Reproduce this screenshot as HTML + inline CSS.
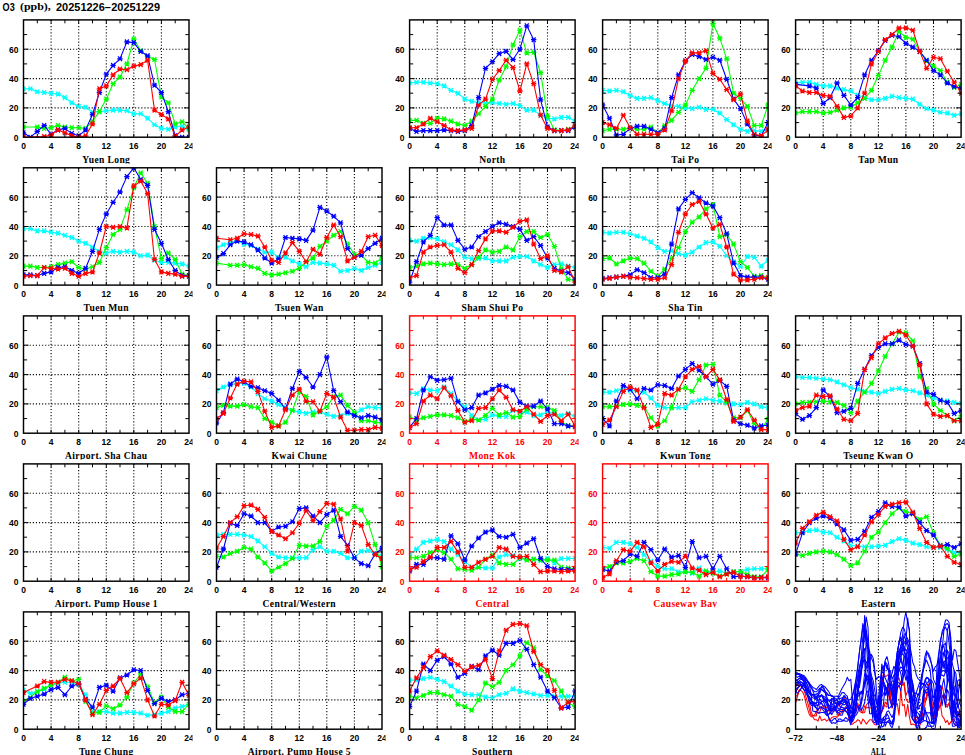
<!DOCTYPE html>
<html><head><meta charset="utf-8"><title>O3 (ppb), 20251226-20251229</title>
<style>html,body{margin:0;padding:0;background:#fff}body{width:965px;height:755px;overflow:hidden}svg{display:block}text{font-family:"Liberation Sans",sans-serif;font-weight:bold;font-size:8.5px}.s{font-family:"Liberation Serif",serif;font-size:9.6px;letter-spacing:.35px;text-anchor:middle}.x{text-anchor:middle}.y{text-anchor:end}.d{fill:none;stroke-width:1.1;stroke-linejoin:round}.a{fill:none;stroke-width:1.05;stroke-linejoin:round}</style></head><body>
<svg width="965" height="755" viewBox="0 0 965 755">
<defs>
<marker id="mc" viewBox="-3 -3 6 6" markerWidth="6" markerHeight="6" refX="0" refY="0" markerUnits="userSpaceOnUse" overflow="visible"><path d="M-2.7 0H2.7M-1.9 -2.4L1.9 2.4M-1.9 2.4L1.9 -2.4" stroke="#00ffff" stroke-width="1.3" fill="none"/></marker>
<marker id="mg" viewBox="-3 -3 6 6" markerWidth="6" markerHeight="6" refX="0" refY="0" markerUnits="userSpaceOnUse" overflow="visible"><path d="M-2.7 0H2.7M-1.9 -2.4L1.9 2.4M-1.9 2.4L1.9 -2.4" stroke="#00ff00" stroke-width="1.3" fill="none"/></marker>
<marker id="mb" viewBox="-3 -3 6 6" markerWidth="6" markerHeight="6" refX="0" refY="0" markerUnits="userSpaceOnUse" overflow="visible"><path d="M-2.7 0H2.7M-1.9 -2.4L1.9 2.4M-1.9 2.4L1.9 -2.4" stroke="#0000ff" stroke-width="1.3" fill="none"/></marker>
<marker id="mr" viewBox="-3 -3 6 6" markerWidth="6" markerHeight="6" refX="0" refY="0" markerUnits="userSpaceOnUse" overflow="visible"><path d="M-2.7 0H2.7M-1.9 -2.4L1.9 2.4M-1.9 2.4L1.9 -2.4" stroke="#ff0000" stroke-width="1.3" fill="none"/></marker>
<clipPath id="cb"><rect x="0" y="0" width="165.5" height="117.3"/></clipPath>
<clipPath id="ct"><rect x="-24" y="-5" width="193" height="148.6"/></clipPath>
<g id="g24"><path d="M27.6 0V117.3M55.2 0V117.3M82.8 0V117.3M110.3 0V117.3M137.9 0V117.3M0 88H165.5M0 58.7H165.5M0 29.3H165.5" fill="none" stroke="#000" stroke-width="1.1" stroke-dasharray="1.1 2"/></g>
<g id="t24"><path d="M13.8 0v3.4M13.8 117.3v-3.4M27.6 0v3.4M27.6 117.3v-3.4M41.4 0v3.4M41.4 117.3v-3.4M55.2 0v3.4M55.2 117.3v-3.4M69 0v3.4M69 117.3v-3.4M82.8 0v3.4M82.8 117.3v-3.4M96.5 0v3.4M96.5 117.3v-3.4M110.3 0v3.4M110.3 117.3v-3.4M124.1 0v3.4M124.1 117.3v-3.4M137.9 0v3.4M137.9 117.3v-3.4M151.7 0v3.4M151.7 117.3v-3.4M0 102.7h3.6M165.5 102.7h-3.6M0 88h5M165.5 88h-5M0 73.3h3.6M165.5 73.3h-3.6M0 58.7h5M165.5 58.7h-5M0 44h3.6M165.5 44h-3.6M0 29.3h5M165.5 29.3h-5M0 14.7h3.6M165.5 14.7h-3.6" fill="none" stroke-width="1"/><rect x="0" y="0" width="165.5" height="117.3" fill="none" stroke-width="1.45"/></g>
<g id="l24"><text class="x" x="0" y="129">0</text><text class="x" x="27.6" y="129">4</text><text class="x" x="55.2" y="129">8</text><text class="x" x="82.8" y="129">12</text><text class="x" x="110.3" y="129">16</text><text class="x" x="137.9" y="129">20</text><text class="x" x="165.5" y="129">24</text><text class="y" x="-5" y="120.8">0</text><text class="y" x="-5" y="91.5">20</text><text class="y" x="-5" y="62.2">40</text><text class="y" x="-5" y="32.8">60</text></g>
</defs>
<rect width="965" height="755" fill="#fff"/>
<text x="2.6" y="10.5" style="font-size:10.2px" textLength="12.1" lengthAdjust="spacingAndGlyphs">O3</text>
<text x="20" y="10.1" style="font-family:'Liberation Serif',serif;font-size:11px" textLength="30.8" lengthAdjust="spacingAndGlyphs">(ppb),</text>
<text x="56" y="10.5" style="font-size:10.2px" textLength="104" lengthAdjust="spacingAndGlyphs">20251226−20251229</text>
<g transform="translate(23.5 19.9)" clip-path="url(#ct)">
<use href="#g24"/>
<g clip-path="url(#cb)">
<polyline class="d" stroke="#00ffff" marker-start="url(#mc)" marker-mid="url(#mc)" marker-end="url(#mc)" points="0,68.9 6.9,68.9 13.8,71.9 20.7,72.6 27.6,73.3 34.5,74.1 41.4,77.7 48.3,82.9 55.2,86.5 62.1,87.3 69,92.4 75.9,91.7 82.8,90.9 89.6,90.2 96.5,90.2 103.4,90.9 110.3,93.9 117.2,93.9 124.1,98.3 131,104.9 137.9,108.5 144.8,109.3 151.7,107.1 158.6,106.3 165.5,110"/>
<polyline class="d" stroke="#00ff00" marker-start="url(#mg)" marker-mid="url(#mg)" marker-end="url(#mg)" points="0,107.1 13.8,107.1 20.7,108.5 27.6,107.8 34.5,105.6 41.4,107.1 48.3,107.8 55.2,107.8 62.1,108.5 69,101.2 75.9,91.7 82.8,79.2 89.6,63.8 96.5,57.2 103.4,44 110.3,19.1 117.2,30.8 124.1,36.7 131,39.6 137.9,77 144.8,82.9 151.7,104.1 158.6,101.9 165.5,108.5"/>
<polyline class="d" stroke="#0000ff" marker-start="url(#mb)" marker-mid="url(#mb)" marker-end="url(#mb)" points="0,112.9 6.9,117.3 13.8,111.5 20.7,105.6 27.6,114.4 34.5,110 41.4,108.5 48.3,113.7 55.2,115.9 62.1,110 69,94.6 75.9,72.6 82.8,54.3 89.6,45.5 96.5,38.9 103.4,22 110.3,22.7 117.2,31.5 124.1,35.9 131,65.3 137.9,72.6 144.8,91.7 151.7,115.9 158.6,117.3 165.5,117.3"/>
<polyline class="d" stroke="#ff0000" marker-start="url(#mr)" marker-mid="url(#mr)" marker-end="url(#mr)" points="0,117.3 20.7,116.6 27.6,115.1 34.5,110 41.4,112.9 48.3,115.9 55.2,117.3 62.1,115.9 69,104.1 75.9,68.9 82.8,66 89.6,55 96.5,49.1 103.4,49.9 110.3,46.2 117.2,44.7 124.1,40.3 131,90.2 137.9,94.6 144.8,99 151.7,116.6 158.6,110 165.5,107.1"/>
</g>
<use href="#t24" stroke="#000"/>
<use href="#l24" fill="#000"/>
<text class="s" x="82.8" y="142.9" fill="#000">Yuen Long</text>
</g>
<g transform="translate(409.6 19.9)" clip-path="url(#ct)">
<use href="#g24"/>
<g clip-path="url(#cb)">
<polyline class="d" stroke="#00ffff" marker-start="url(#mc)" marker-mid="url(#mc)" marker-end="url(#mc)" points="0,63.1 6.9,62.3 13.8,62.3 20.7,63.1 27.6,63.8 34.5,66 41.4,70.4 48.3,73.3 55.2,79.2 62.1,81.4 69,82.9 75.9,82.9 82.8,82.9 89.6,83.6 96.5,84.3 103.4,83.6 110.3,85.8 117.2,90.2 124.1,90.2 131,95.3 137.9,98.3 144.8,99 151.7,97.5 158.6,97.5 165.5,101.2"/>
<polyline class="d" stroke="#00ff00" marker-start="url(#mg)" marker-mid="url(#mg)" marker-end="url(#mg)" points="0,100.5 6.9,100.5 13.8,103.4 20.7,103.4 27.6,98.3 34.5,99 41.4,101.2 48.3,104.1 55.2,105.6 62.1,101.2 69,93.9 75.9,86.5 82.8,79.2 89.6,60.1 96.5,46.9 103.4,24.9 110.3,10.3 117.2,33 124.1,32.3 131,52.8 137.9,96.1 144.8,110 151.7,110.7 158.6,109.3 165.5,107.1"/>
<polyline class="d" stroke="#0000ff" marker-start="url(#mb)" marker-mid="url(#mb)" marker-end="url(#mb)" points="0,108.5 6.9,111.5 13.8,110.7 20.7,110.7 27.6,110.7 34.5,110 41.4,110.7 48.3,111.5 55.2,110.7 62.1,105.6 69,77.7 75.9,48.4 82.8,41.8 89.6,33.7 96.5,31.5 103.4,39.6 110.3,29.3 117.2,5.9 124.1,19.8 131,79.9 137.9,107.1 144.8,110.7 151.7,110.7 158.6,110.7 165.5,107.1"/>
<polyline class="d" stroke="#ff0000" marker-start="url(#mr)" marker-mid="url(#mr)" marker-end="url(#mr)" points="0,107.8 6.9,107.8 13.8,104.1 20.7,98.3 27.6,101.9 34.5,105.6 41.4,110 48.3,110.7 55.2,110 62.1,108.5 69,85.1 75.9,79.2 82.8,59.4 89.6,50.6 96.5,40.3 103.4,47.7 110.3,71.1 117.2,44 124.1,63.8 131,95.3 137.9,108.5 144.8,110.7 151.7,110.7 158.6,110 165.5,105.6"/>
</g>
<use href="#t24" stroke="#000"/>
<use href="#l24" fill="#000"/>
<text class="s" x="82.8" y="142.9" fill="#000">North</text>
</g>
<g transform="translate(602.6 19.9)" clip-path="url(#ct)">
<use href="#g24"/>
<g clip-path="url(#cb)">
<polyline class="d" stroke="#00ffff" marker-start="url(#mc)" marker-mid="url(#mc)" marker-end="url(#mc)" points="0,70.4 6.9,71.1 13.8,70.4 20.7,71.9 27.6,75.5 34.5,78.5 41.4,78.5 48.3,77.7 55.2,80.7 62.1,83.6 69,85.8 75.9,86.5 82.8,88 89.6,88.7 96.5,87.3 103.4,89.5 110.3,89.5 117.2,93.1 124.1,99.7 131,104.9 137.9,109.3 144.8,111.5 151.7,110.7 158.6,111.5 165.5,110"/>
<polyline class="d" stroke="#00ff00" marker-start="url(#mg)" marker-mid="url(#mg)" marker-end="url(#mg)" points="0,110.7 6.9,109.3 13.8,109.3 20.7,109.3 27.6,108.5 34.5,109.3 41.4,109.3 48.3,107.1 55.2,112.9 62.1,105.6 69,100.5 75.9,92.4 82.8,85.1 89.6,70.4 96.5,58.7 103.4,48.4 110.3,3.7 117.2,18.3 124.1,38.9 131,73.3 137.9,78.5 144.8,86.5 151.7,105.6 158.6,105.6 165.5,85.1"/>
<polyline class="d" stroke="#0000ff" marker-start="url(#mb)" marker-mid="url(#mb)" marker-end="url(#mb)" points="0,85.1 6.9,98.3 13.8,115.1 20.7,114.4 27.6,108.5 34.5,106.3 41.4,106.3 48.3,109.3 55.2,112.9 62.1,108.5 69,77.7 75.9,55 82.8,41.1 89.6,34.5 96.5,36.7 103.4,39.6 110.3,37.4 117.2,40.3 124.1,59.4 131,79.2 137.9,88.7 144.8,104.1 151.7,115.1 158.6,115.9 165.5,102.7"/>
<polyline class="d" stroke="#ff0000" marker-start="url(#mr)" marker-mid="url(#mr)" marker-end="url(#mr)" points="0,102.7 6.9,104.9 13.8,108.5 20.7,95.3 27.6,107.8 34.5,114.4 41.4,114.4 48.3,114.4 55.2,114.4 62.1,110 69,90.9 75.9,58.7 82.8,41.1 89.6,33 96.5,33 103.4,30.8 110.3,53.5 117.2,59.4 124.1,69.7 131,79.9 137.9,74.1 144.8,101.2 151.7,114.4 158.6,115.9 165.5,110"/>
</g>
<use href="#t24" stroke="#000"/>
<use href="#l24" fill="#000"/>
<text class="s" x="82.8" y="142.9" fill="#000">Tai Po</text>
</g>
<g transform="translate(795.6 19.9)" clip-path="url(#ct)">
<use href="#g24"/>
<g clip-path="url(#cb)">
<polyline class="d" stroke="#00ffff" marker-start="url(#mc)" marker-mid="url(#mc)" marker-end="url(#mc)" points="0,63.1 6.9,62.3 13.8,62.3 20.7,64.5 27.6,66 34.5,66 41.4,68.2 48.3,69.7 55.2,71.1 62.1,75.5 69,77.7 75.9,79.9 82.8,79.9 89.6,78.5 96.5,76.3 103.4,77.7 110.3,78.5 117.2,79.2 124.1,84.3 131,88.7 137.9,90.2 144.8,92.4 151.7,93.1 158.6,95.3 165.5,93.9"/>
<polyline class="d" stroke="#00ff00" marker-start="url(#mg)" marker-mid="url(#mg)" marker-end="url(#mg)" points="0,93.1 6.9,91.7 13.8,91.7 20.7,91.7 27.6,93.1 34.5,92.4 41.4,90.2 48.3,88 55.2,87.3 62.1,82.9 69,78.5 75.9,70.4 82.8,55.7 89.6,40.3 96.5,27.1 103.4,11.7 110.3,17.6 117.2,19.1 124.1,31.5 131,41.1 137.9,46.2 144.8,50.6 151.7,62.3 158.6,67.5 165.5,64.5"/>
<polyline class="d" stroke="#0000ff" marker-start="url(#mb)" marker-mid="url(#mb)" marker-end="url(#mb)" points="0,64.5 13.8,66 20.7,68.2 27.6,83.6 34.5,77.7 41.4,63.1 48.3,75.5 55.2,85.1 62.1,77.7 69,55 75.9,40.3 82.8,30.8 89.6,20.5 96.5,15.4 103.4,16.9 110.3,23.5 117.2,27.1 124.1,31.5 131,40.3 137.9,50.6 144.8,55 151.7,63.1 158.6,66.7 165.5,68.2"/>
<polyline class="d" stroke="#ff0000" marker-start="url(#mr)" marker-mid="url(#mr)" marker-end="url(#mr)" points="0,66 6.9,71.1 13.8,72.6 20.7,72.6 27.6,75.5 34.5,76.3 41.4,86.5 48.3,97.5 55.2,96.1 62.1,88 69,73.3 75.9,44 82.8,31.5 89.6,19.8 96.5,14.7 103.4,8.1 110.3,8.1 117.2,10.3 124.1,31.5 131,48.4 137.9,37.4 144.8,38.9 151.7,51.3 158.6,62.3 165.5,73.3"/>
</g>
<use href="#t24" stroke="#000"/>
<use href="#l24" fill="#000"/>
<text class="s" x="82.8" y="142.9" fill="#000">Tap Mun</text>
</g>
<g transform="translate(23.5 167.8)" clip-path="url(#ct)">
<use href="#g24"/>
<g clip-path="url(#cb)">
<polyline class="d" stroke="#00ffff" marker-start="url(#mc)" marker-mid="url(#mc)" marker-end="url(#mc)" points="0,60.9 6.9,60.9 13.8,63.1 20.7,63.1 27.6,64.5 34.5,65.3 41.4,67.5 48.3,69.7 55.2,73.3 62.1,75.5 69,79.2 75.9,83.6 82.8,85.1 89.6,83.6 96.5,84.3 103.4,83.6 110.3,84.3 117.2,88 124.1,87.3 131,92.4 137.9,94.6 144.8,94.6 151.7,95.3 158.6,96.1 165.5,98.3"/>
<polyline class="d" stroke="#00ff00" marker-start="url(#mg)" marker-mid="url(#mg)" marker-end="url(#mg)" points="0,98.3 6.9,98.3 13.8,99.7 20.7,99.7 27.6,99 34.5,96.8 41.4,95.3 48.3,93.9 55.2,99.7 62.1,101.2 69,99 75.9,94.6 82.8,79.9 89.6,66.7 96.5,61.6 103.4,41.8 110.3,19.8 117.2,5.1 124.1,15.4 131,58.7 137.9,90.9 144.8,85.1 151.7,91.7 158.6,106.3 165.5,107.8"/>
<polyline class="d" stroke="#0000ff" marker-start="url(#mb)" marker-mid="url(#mb)" marker-end="url(#mb)" points="0,107.1 6.9,107.1 13.8,107.8 20.7,105.6 27.6,104.1 34.5,99.7 41.4,99 48.3,102.7 55.2,105.6 62.1,100.5 69,83.6 75.9,61.6 82.8,46.2 89.6,34.5 96.5,24.2 103.4,8.8 110.3,0 117.2,11.7 124.1,17.6 131,61.6 137.9,75.5 144.8,91.7 151.7,102.7 158.6,107.8 165.5,107.8"/>
<polyline class="d" stroke="#ff0000" marker-start="url(#mr)" marker-mid="url(#mr)" marker-end="url(#mr)" points="0,108.5 6.9,107.8 13.8,107.8 20.7,99.7 27.6,100.5 34.5,101.2 41.4,100.5 48.3,105.6 55.2,108.5 62.1,105.6 69,104.1 75.9,85.1 82.8,58.7 89.6,59.4 96.5,58.7 103.4,60.1 110.3,18.3 117.2,13.2 124.1,25.7 131,91.7 137.9,104.1 144.8,105.6 151.7,106.3 158.6,108.5 165.5,108.5"/>
</g>
<use href="#t24" stroke="#000"/>
<use href="#l24" fill="#000"/>
<text class="s" x="82.8" y="142.9" fill="#000">Tuen Mun</text>
</g>
<g transform="translate(216.5 167.8)" clip-path="url(#ct)">
<use href="#g24"/>
<g clip-path="url(#cb)">
<polyline class="d" stroke="#00ffff" marker-start="url(#mc)" marker-mid="url(#mc)" marker-end="url(#mc)" points="0,79.9 6.9,77 13.8,74.8 20.7,72.6 27.6,76.3 34.5,77.7 41.4,81.4 48.3,84.3 55.2,84.3 62.1,89.5 69,89.5 75.9,93.1 82.8,96.1 89.6,99 96.5,94.6 103.4,95.3 110.3,96.1 117.2,97.5 124.1,103.4 131,102.7 137.9,100.5 144.8,102.7 151.7,99.7 158.6,97.5 165.5,94.6"/>
<polyline class="d" stroke="#00ff00" marker-start="url(#mg)" marker-mid="url(#mg)" marker-end="url(#mg)" points="0,95.3 13.8,97.5 20.7,97.5 27.6,96.8 34.5,99 41.4,100.5 48.3,105.6 55.2,107.1 62.1,106.3 69,104.9 75.9,103.4 82.8,100.5 89.6,93.9 96.5,90.2 103.4,78.5 110.3,73.3 117.2,67.5 124.1,63.8 131,76.3 137.9,86.5 144.8,87.3 151.7,94.6 158.6,95.3 165.5,90.2"/>
<polyline class="d" stroke="#0000ff" marker-start="url(#mb)" marker-mid="url(#mb)" marker-end="url(#mb)" points="0,89.5 6.9,85.8 13.8,77 20.7,73.3 27.6,74.1 34.5,77 41.4,82.1 48.3,90.2 55.2,95.3 62.1,90.9 69,69.7 75.9,70.4 82.8,71.1 89.6,72.6 96.5,62.3 103.4,39.6 110.3,43.3 117.2,48.4 124.1,55 131,80.7 137.9,89.5 144.8,87.3 151.7,80.7 158.6,75.5 165.5,70.4"/>
<polyline class="d" stroke="#ff0000" marker-start="url(#mr)" marker-mid="url(#mr)" marker-end="url(#mr)" points="0,70.4 13.8,71.9 20.7,70.4 27.6,66 34.5,66.7 41.4,68.2 48.3,79.2 55.2,92.4 62.1,94.6 69,85.1 75.9,74.8 82.8,83.6 89.6,93.9 96.5,81.4 103.4,86.5 110.3,69.7 117.2,57.2 124.1,68.9 131,93.1 137.9,89.5 144.8,83.6 151.7,68.9 158.6,67.5 165.5,77.7"/>
</g>
<use href="#t24" stroke="#000"/>
<use href="#l24" fill="#000"/>
<text class="s" x="82.8" y="142.9" fill="#000">Tsuen Wan</text>
</g>
<g transform="translate(409.6 167.8)" clip-path="url(#ct)">
<use href="#g24"/>
<g clip-path="url(#cb)">
<polyline class="d" stroke="#00ffff" marker-start="url(#mc)" marker-mid="url(#mc)" marker-end="url(#mc)" points="0,72.6 6.9,73.3 13.8,70.4 20.7,69.7 27.6,71.1 34.5,74.1 41.4,77 48.3,82.1 55.2,89.5 62.1,90.9 69,90.9 75.9,90.2 82.8,93.1 89.6,93.1 96.5,93.1 103.4,89.5 110.3,88.7 117.2,88.7 124.1,93.1 131,96.8 137.9,99.7 144.8,96.8 151.7,96.1 158.6,98.3 165.5,99.7"/>
<polyline class="d" stroke="#00ff00" marker-start="url(#mg)" marker-mid="url(#mg)" marker-end="url(#mg)" points="0,99.7 6.9,98.3 13.8,96.1 20.7,95.3 27.6,96.1 34.5,96.8 41.4,96.1 48.3,96.8 55.2,100.5 62.1,96.8 69,89.5 75.9,82.1 82.8,84.3 89.6,83.6 96.5,79.2 103.4,82.1 110.3,68.9 117.2,63.8 124.1,63.8 131,69.7 137.9,66.7 144.8,78.5 151.7,101.2 158.6,111.5 165.5,112.9"/>
<polyline class="d" stroke="#0000ff" marker-start="url(#mb)" marker-mid="url(#mb)" marker-end="url(#mb)" points="0,114.4 6.9,93.9 13.8,74.1 20.7,67.5 27.6,49.9 34.5,57.2 41.4,57.2 48.3,72.6 55.2,81.4 62.1,79.2 69,68.9 75.9,63.8 82.8,58.7 89.6,55 96.5,56.5 103.4,58.7 110.3,61.6 117.2,72.6 124.1,68.9 131,77.7 137.9,90.2 144.8,100.5 151.7,103.4 158.6,104.9 165.5,111.5"/>
<polyline class="d" stroke="#ff0000" marker-start="url(#mr)" marker-mid="url(#mr)" marker-end="url(#mr)" points="0,110 6.9,107.8 13.8,84.3 20.7,79.2 27.6,77.7 34.5,77 41.4,84.3 48.3,100.5 55.2,104.9 62.1,96.8 69,82.9 75.9,71.1 82.8,63.1 89.6,63.1 96.5,64.5 103.4,59.4 110.3,53.5 117.2,52.1 124.1,76.3 131,90.9 137.9,88 144.8,102.7 151.7,104.1 158.6,99 165.5,114.4"/>
</g>
<use href="#t24" stroke="#000"/>
<use href="#l24" fill="#000"/>
<text class="s" x="82.8" y="142.9" fill="#000">Sham Shui Po</text>
</g>
<g transform="translate(602.6 167.8)" clip-path="url(#ct)">
<use href="#g24"/>
<g clip-path="url(#cb)">
<polyline class="d" stroke="#00ffff" marker-start="url(#mc)" marker-mid="url(#mc)" marker-end="url(#mc)" points="0,64.5 6.9,65.3 13.8,64.5 20.7,64.5 27.6,66 34.5,68.2 41.4,70.4 48.3,74.1 55.2,79.9 62.1,83.6 69,82.9 75.9,85.8 82.8,87.3 89.6,84.3 96.5,79.2 103.4,74.8 110.3,74.1 117.2,78.5 124.1,88 131,93.9 137.9,99 144.8,88.7 151.7,89.5 158.6,98.3 165.5,92.4"/>
<polyline class="d" stroke="#00ff00" marker-start="url(#mg)" marker-mid="url(#mg)" marker-end="url(#mg)" points="0,90.9 6.9,90.2 13.8,96.1 20.7,93.1 27.6,90.2 34.5,90.9 41.4,95.3 48.3,103.4 55.2,108.5 62.1,101.2 69,90.9 75.9,79.9 82.8,63.8 89.6,54.3 96.5,49.1 103.4,41.1 110.3,36.7 117.2,68.9 124.1,66.7 131,76.3 137.9,93.9 144.8,99.7 151.7,108.5 158.6,107.8 165.5,110"/>
<polyline class="d" stroke="#0000ff" marker-start="url(#mb)" marker-mid="url(#mb)" marker-end="url(#mb)" points="0,110.7 6.9,110 13.8,109.3 20.7,108.5 27.6,107.1 34.5,101.9 41.4,104.9 48.3,110 55.2,110 62.1,106.3 69,76.3 75.9,41.1 82.8,31.5 89.6,24.9 96.5,30.1 103.4,35.2 110.3,38.1 117.2,49.9 124.1,66 131,95.3 137.9,107.8 144.8,109.3 151.7,109.3 158.6,109.3 165.5,111.5"/>
<polyline class="d" stroke="#ff0000" marker-start="url(#mr)" marker-mid="url(#mr)" marker-end="url(#mr)" points="0,111.5 6.9,110.7 13.8,109.3 20.7,108.5 27.6,109.3 34.5,110 41.4,110.7 48.3,111.5 55.2,111.5 62.1,110 69,96.8 75.9,64.5 82.8,46.2 89.6,36.7 96.5,33.7 103.4,46.2 110.3,60.1 117.2,56.5 124.1,79.2 131,106.3 137.9,112.2 144.8,112.2 151.7,111.5 158.6,110 165.5,110"/>
</g>
<use href="#t24" stroke="#000"/>
<use href="#l24" fill="#000"/>
<text class="s" x="82.8" y="142.9" fill="#000">Sha Tin</text>
</g>
<g transform="translate(23.5 315.9)" clip-path="url(#ct)">
<use href="#g24"/>
<use href="#t24" stroke="#000"/>
<use href="#l24" fill="#000"/>
<text class="s" x="82.8" y="142.9" fill="#000">Airport. Sha Chau</text>
</g>
<g transform="translate(216.5 315.9)" clip-path="url(#ct)">
<use href="#g24"/>
<g clip-path="url(#cb)">
<polyline class="d" stroke="#00ffff" marker-start="url(#mc)" marker-mid="url(#mc)" marker-end="url(#mc)" points="0,74.8 6.9,71.1 13.8,68.9 20.7,67.5 27.6,67.5 34.5,71.1 41.4,77.7 48.3,82.9 55.2,85.1 62.1,88.7 69,91.7 75.9,94.6 82.8,96.1 89.6,97.5 96.5,96.1 103.4,96.1 110.3,98.3 117.2,100.5 124.1,99.7 131,97.5 137.9,99 144.8,93.9 151.7,90.9 158.6,91.7 165.5,91.7"/>
<polyline class="d" stroke="#00ff00" marker-start="url(#mg)" marker-mid="url(#mg)" marker-end="url(#mg)" points="0,91.7 6.9,89.5 13.8,90.2 20.7,90.2 27.6,88.7 34.5,90.9 41.4,91.7 48.3,102.7 55.2,106.3 62.1,110 69,106.3 75.9,94.6 82.8,75.5 89.6,80.7 96.5,99 103.4,95.3 110.3,90.9 117.2,80.7 124.1,79.2 131,89.5 137.9,96.1 144.8,104.9 151.7,104.9 158.6,106.3 165.5,107.1"/>
<polyline class="d" stroke="#0000ff" marker-start="url(#mb)" marker-mid="url(#mb)" marker-end="url(#mb)" points="0,107.1 6.9,96.8 13.8,68.2 20.7,63.1 27.6,66 34.5,70.4 41.4,71.9 48.3,74.8 55.2,77.7 62.1,84.3 69,93.1 75.9,72.6 82.8,55.7 89.6,61.6 96.5,71.1 103.4,58.7 110.3,41.1 117.2,74.8 124.1,85.8 131,96.1 137.9,99.7 144.8,101.9 151.7,99.7 158.6,101.2 165.5,104.1"/>
<polyline class="d" stroke="#ff0000" marker-start="url(#mr)" marker-mid="url(#mr)" marker-end="url(#mr)" points="0,102.7 6.9,97.5 13.8,82.1 20.7,68.2 27.6,65.3 34.5,66 41.4,75.5 48.3,95.3 55.2,111.5 62.1,110 69,93.9 75.9,79.2 82.8,73.3 89.6,85.1 96.5,85.8 103.4,95.3 110.3,77.7 117.2,81.4 124.1,101.2 131,114.4 137.9,114.4 144.8,113.7 151.7,113.7 158.6,111.5 165.5,112.2"/>
</g>
<use href="#t24" stroke="#000"/>
<use href="#l24" fill="#000"/>
<text class="s" x="82.8" y="142.9" fill="#000">Kwai Chung</text>
</g>
<g transform="translate(409.6 315.9)" clip-path="url(#ct)">
<use href="#g24"/>
<g clip-path="url(#cb)">
<polyline class="d" stroke="#00ffff" marker-start="url(#mc)" marker-mid="url(#mc)" marker-end="url(#mc)" points="0,77 6.9,77.7 13.8,72.6 20.7,74.1 27.6,74.8 34.5,71.1 41.4,77.7 48.3,85.1 55.2,90.9 62.1,99.7 69,104.1 75.9,103.4 82.8,99 89.6,100.5 96.5,100.5 103.4,94.6 110.3,96.1 117.2,96.1 124.1,99.7 131,99 137.9,96.1 144.8,97.5 151.7,99.7 158.6,97.5 165.5,100.5"/>
<polyline class="d" stroke="#00ff00" marker-start="url(#mg)" marker-mid="url(#mg)" marker-end="url(#mg)" points="0,101.2 6.9,104.1 13.8,101.9 20.7,100.5 27.6,99 34.5,99 41.4,99.7 48.3,101.9 55.2,105.6 62.1,103.4 69,104.1 75.9,99.7 82.8,92.4 89.6,99 96.5,96.8 103.4,101.2 110.3,100.5 117.2,93.1 124.1,90.9 131,90.9 137.9,91.7 144.8,94.6 151.7,105.6 158.6,110 165.5,110"/>
<polyline class="d" stroke="#0000ff" marker-start="url(#mb)" marker-mid="url(#mb)" marker-end="url(#mb)" points="0,111.5 6.9,102.7 13.8,74.1 20.7,60.9 27.6,64.5 34.5,63.8 41.4,62.3 48.3,85.8 55.2,93.9 62.1,91.7 69,79.2 75.9,77 82.8,73.3 89.6,69.7 96.5,70.4 103.4,74.1 110.3,86.5 117.2,90.2 124.1,90.2 131,85.1 137.9,93.1 144.8,107.8 151.7,107.8 158.6,110 165.5,110.7"/>
<polyline class="d" stroke="#ff0000" marker-start="url(#mr)" marker-mid="url(#mr)" marker-end="url(#mr)" points="0,111.5 6.9,107.8 13.8,85.1 20.7,79.2 27.6,82.9 34.5,71.9 41.4,79.9 48.3,94.6 55.2,106.3 62.1,104.9 69,92.4 75.9,91.7 82.8,82.9 89.6,74.1 96.5,81.4 103.4,93.9 110.3,95.3 117.2,90.9 124.1,98.3 131,105.6 137.9,99.7 144.8,98.3 151.7,104.9 158.6,98.3 165.5,110"/>
</g>
<use href="#t24" stroke="#ff0000"/>
<use href="#l24" fill="#ff0000"/>
<text class="s" x="82.8" y="142.9" fill="#ff0000">Mong Kok</text>
</g>
<g transform="translate(602.6 315.9)" clip-path="url(#ct)">
<use href="#g24"/>
<g clip-path="url(#cb)">
<polyline class="d" stroke="#00ffff" marker-start="url(#mc)" marker-mid="url(#mc)" marker-end="url(#mc)" points="0,76.3 6.9,76.3 13.8,74.8 20.7,72.6 27.6,74.8 34.5,74.8 41.4,76.3 48.3,82.1 55.2,89.5 62.1,91.7 69,91.7 75.9,91.7 82.8,91.7 89.6,85.8 96.5,84.3 103.4,82.9 110.3,84.3 117.2,85.1 124.1,87.3 131,88 137.9,88.7 144.8,86.5 151.7,88 158.6,90.9 165.5,91.7"/>
<polyline class="d" stroke="#00ff00" marker-start="url(#mg)" marker-mid="url(#mg)" marker-end="url(#mg)" points="0,90.9 6.9,90.9 13.8,90.2 20.7,88.7 27.6,88 34.5,89.5 41.4,90.9 48.3,101.9 55.2,110 62.1,104.9 69,91.7 75.9,73.3 82.8,71.9 89.6,75.5 96.5,63.8 103.4,49.1 110.3,48.4 117.2,79.2 124.1,86.5 131,101.9 137.9,101.9 144.8,94.6 151.7,107.8 158.6,112.9 165.5,103.4"/>
<polyline class="d" stroke="#0000ff" marker-start="url(#mb)" marker-mid="url(#mb)" marker-end="url(#mb)" points="0,102.7 6.9,110 13.8,85.1 20.7,69.7 27.6,73.3 34.5,82.9 41.4,72.6 48.3,74.1 55.2,68.9 62.1,69.7 69,72.6 75.9,60.1 82.8,53.5 89.6,47.7 96.5,54.3 103.4,60.9 110.3,68.2 117.2,64.5 124.1,70.4 131,104.1 137.9,107.8 144.8,109.3 151.7,112.2 158.6,110 165.5,109.3"/>
<polyline class="d" stroke="#ff0000" marker-start="url(#mr)" marker-mid="url(#mr)" marker-end="url(#mr)" points="0,108.5 6.9,104.1 13.8,90.9 20.7,75.5 27.6,71.1 34.5,74.1 41.4,91.7 48.3,111.5 55.2,108.5 62.1,77.7 69,79.2 75.9,73.3 82.8,60.9 89.6,53.5 96.5,50.6 103.4,60.9 110.3,53.5 117.2,63.8 124.1,83.6 131,105.6 137.9,101.2 144.8,93.9 151.7,104.1 158.6,113.7 165.5,113.7"/>
</g>
<use href="#t24" stroke="#000"/>
<use href="#l24" fill="#000"/>
<text class="s" x="82.8" y="142.9" fill="#000">Kwun Tong</text>
</g>
<g transform="translate(795.6 315.9)" clip-path="url(#ct)">
<use href="#g24"/>
<g clip-path="url(#cb)">
<polyline class="d" stroke="#00ffff" marker-start="url(#mc)" marker-mid="url(#mc)" marker-end="url(#mc)" points="0,60.9 6.9,61.6 13.8,61.6 20.7,62.3 27.6,63.1 34.5,63.8 41.4,66 48.3,68.9 55.2,71.9 62.1,73.3 69,75.5 75.9,76.3 82.8,77.7 89.6,75.5 96.5,73.3 103.4,72.6 110.3,74.1 117.2,74.8 124.1,77 131,79.2 137.9,82.1 144.8,84.3 151.7,85.1 158.6,86.5 165.5,87.3"/>
<polyline class="d" stroke="#00ff00" marker-start="url(#mg)" marker-mid="url(#mg)" marker-end="url(#mg)" points="0,88 6.9,86.5 13.8,86.5 20.7,85.8 27.6,85.1 34.5,85.8 41.4,86.5 48.3,89.5 55.2,96.8 62.1,85.1 69,76.3 75.9,67.5 82.8,55 89.6,40.3 96.5,27.9 103.4,16.1 110.3,16.9 117.2,24.9 124.1,60.9 131,72.6 137.9,88 144.8,94.6 151.7,99.7 158.6,104.9 165.5,99.7"/>
<polyline class="d" stroke="#0000ff" marker-start="url(#mb)" marker-mid="url(#mb)" marker-end="url(#mb)" points="0,97.5 6.9,103.4 13.8,99.7 20.7,91.7 27.6,74.1 34.5,80.7 41.4,96.8 48.3,95.3 55.2,92.4 62.1,67.5 69,53.5 75.9,39.6 82.8,31.5 89.6,27.9 96.5,27.9 103.4,24.2 110.3,28.6 117.2,30.1 124.1,47.7 131,76.3 137.9,78.5 144.8,84.3 151.7,86.5 158.6,97.5 165.5,94.6"/>
<polyline class="d" stroke="#ff0000" marker-start="url(#mr)" marker-mid="url(#mr)" marker-end="url(#mr)" points="0,94.6 6.9,91.7 13.8,90.2 20.7,79.2 27.6,80.7 34.5,79.9 41.4,93.1 48.3,103.4 55.2,104.9 62.1,97.5 69,53.5 75.9,41.8 82.8,27.9 89.6,22 96.5,17.6 103.4,15.4 110.3,19.1 117.2,30.1 124.1,49.1 131,88 137.9,98.3 144.8,100.5 151.7,99.7 158.6,104.9 165.5,104.9"/>
</g>
<use href="#t24" stroke="#000"/>
<use href="#l24" fill="#000"/>
<text class="s" x="82.8" y="142.9" fill="#000">Tseung Kwan O</text>
</g>
<g transform="translate(23.5 463.9)" clip-path="url(#ct)">
<use href="#g24"/>
<use href="#t24" stroke="#000"/>
<use href="#l24" fill="#000"/>
<text class="s" x="82.8" y="142.9" fill="#000">Airport. Pump House 1</text>
</g>
<g transform="translate(216.5 463.9)" clip-path="url(#ct)">
<use href="#g24"/>
<g clip-path="url(#cb)">
<polyline class="d" stroke="#00ffff" marker-start="url(#mc)" marker-mid="url(#mc)" marker-end="url(#mc)" points="0,71.1 6.9,70.4 13.8,70.4 20.7,70.4 27.6,71.1 34.5,72.6 41.4,77 48.3,82.9 55.2,89.5 62.1,93.1 69,93.9 75.9,93.9 82.8,93.9 89.6,93.9 96.5,85.8 103.4,82.9 110.3,87.3 117.2,87.3 124.1,89.5 131,93.9 137.9,93.9 144.8,87.3 151.7,86.5 158.6,90.9 165.5,92.4"/>
<polyline class="d" stroke="#00ff00" marker-start="url(#mg)" marker-mid="url(#mg)" marker-end="url(#mg)" points="0,92.4 6.9,93.1 13.8,89.5 20.7,87.3 27.6,83.6 34.5,85.1 41.4,93.1 48.3,99 55.2,107.1 62.1,103.4 69,99.7 75.9,94.6 82.8,81.4 89.6,82.1 96.5,82.1 103.4,77.7 110.3,62.3 117.2,56.5 124.1,45.5 131,49.9 137.9,42.5 144.8,46.2 151.7,58.7 158.6,80.7 165.5,102.7"/>
<polyline class="d" stroke="#0000ff" marker-start="url(#mb)" marker-mid="url(#mb)" marker-end="url(#mb)" points="0,103.4 6.9,85.1 13.8,59.4 20.7,61.6 27.6,49.9 34.5,52.1 41.4,58.7 48.3,58.7 55.2,67.5 62.1,63.1 69,62.3 75.9,57.9 82.8,44.7 89.6,44 96.5,52.1 103.4,58.7 110.3,50.6 117.2,46.2 124.1,72.6 131,81.4 137.9,93.9 144.8,99.7 151.7,101.9 158.6,90.2 165.5,84.3"/>
<polyline class="d" stroke="#ff0000" marker-start="url(#mr)" marker-mid="url(#mr)" marker-end="url(#mr)" points="0,84.3 6.9,72.6 13.8,58.7 20.7,52.8 27.6,41.8 34.5,41.1 41.4,45.5 48.3,53.5 55.2,67.5 62.1,71.1 69,74.8 75.9,68.9 82.8,59.4 89.6,46.9 96.5,56.5 103.4,47.7 110.3,39.6 117.2,40.3 124.1,55 131,87.3 137.9,58.7 144.8,61.6 151.7,80.7 158.6,90.9 165.5,94.6"/>
</g>
<use href="#t24" stroke="#000"/>
<use href="#l24" fill="#000"/>
<text class="s" x="82.8" y="142.9" fill="#000">Central/Western</text>
</g>
<g transform="translate(409.6 463.9)" clip-path="url(#ct)">
<use href="#g24"/>
<g clip-path="url(#cb)">
<polyline class="d" stroke="#00ffff" marker-start="url(#mc)" marker-mid="url(#mc)" marker-end="url(#mc)" points="0,90.9 6.9,85.1 13.8,78.5 20.7,77 27.6,75.5 34.5,77.7 41.4,85.1 48.3,90.9 55.2,97.5 62.1,103.4 69,103.4 75.9,104.1 82.8,104.1 89.6,93.1 96.5,90.9 103.4,91.7 110.3,94.6 117.2,95.3 124.1,95.3 131,96.8 137.9,94.6 144.8,99 151.7,94.6 158.6,94.6 165.5,94.6"/>
<polyline class="d" stroke="#00ff00" marker-start="url(#mg)" marker-mid="url(#mg)" marker-end="url(#mg)" points="0,93.9 6.9,93.9 13.8,92.4 20.7,88.7 27.6,85.8 34.5,88.7 41.4,95.3 48.3,104.9 55.2,105.6 62.1,106.3 69,103.4 75.9,95.3 82.8,90.9 89.6,99 96.5,100.5 103.4,100.5 110.3,93.9 117.2,96.1 124.1,95.3 131,96.1 137.9,96.1 144.8,96.1 151.7,103.4 158.6,104.1 165.5,104.9"/>
<polyline class="d" stroke="#0000ff" marker-start="url(#mb)" marker-mid="url(#mb)" marker-end="url(#mb)" points="0,107.1 6.9,100.5 13.8,100.5 20.7,93.9 27.6,93.9 34.5,95.3 41.4,71.9 48.3,79.9 55.2,96.1 62.1,82.1 69,74.1 75.9,68.2 82.8,66 89.6,72.6 96.5,73.3 103.4,70.4 110.3,83.6 117.2,79.2 124.1,74.8 131,94.6 137.9,102.7 144.8,104.9 151.7,105.6 158.6,105.6 165.5,105.6"/>
<polyline class="d" stroke="#ff0000" marker-start="url(#mr)" marker-mid="url(#mr)" marker-end="url(#mr)" points="0,105.6 6.9,103.4 13.8,97.5 20.7,93.1 27.6,83.6 34.5,83.6 41.4,77.7 48.3,88 55.2,103.4 62.1,103.4 69,98.3 75.9,95.3 82.8,92.4 89.6,83.6 96.5,85.1 103.4,92.4 110.3,93.1 117.2,92.4 124.1,100.5 131,107.8 137.9,107.1 144.8,107.1 151.7,107.8 158.6,107.1 165.5,107.1"/>
</g>
<use href="#t24" stroke="#ff0000"/>
<use href="#l24" fill="#ff0000"/>
<text class="s" x="82.8" y="142.9" fill="#ff0000">Central</text>
</g>
<g transform="translate(602.6 463.9)" clip-path="url(#ct)">
<use href="#g24"/>
<g clip-path="url(#cb)">
<polyline class="d" stroke="#00ffff" marker-start="url(#mc)" marker-mid="url(#mc)" marker-end="url(#mc)" points="0,83.6 6.9,84.3 13.8,78.5 20.7,78.5 27.6,79.9 34.5,83.6 41.4,90.9 48.3,97.5 55.2,102.7 62.1,104.9 69,104.9 75.9,107.8 82.8,107.8 89.6,109.3 96.5,104.1 103.4,108.5 110.3,107.8 117.2,107.1 124.1,109.3 131,107.8 137.9,107.8 144.8,105.6 151.7,104.9 158.6,104.9 165.5,104.9"/>
<polyline class="d" stroke="#00ff00" marker-start="url(#mg)" marker-mid="url(#mg)" marker-end="url(#mg)" points="0,104.9 6.9,102.7 13.8,99 20.7,99 27.6,97.5 34.5,94.6 41.4,96.8 48.3,107.8 55.2,112.2 62.1,112.2 69,110.7 75.9,110 82.8,107.8 89.6,108.5 96.5,112.2 103.4,107.1 110.3,109.3 117.2,112.2 124.1,110 131,107.8 137.9,107.8 144.8,110.7 151.7,112.9 158.6,112.9 165.5,105.6"/>
<polyline class="d" stroke="#0000ff" marker-start="url(#mb)" marker-mid="url(#mb)" marker-end="url(#mb)" points="0,105.6 6.9,107.1 13.8,98.3 20.7,96.8 27.6,90.2 34.5,92.4 41.4,78.5 48.3,85.8 55.2,96.1 62.1,85.1 69,93.1 75.9,91.7 82.8,103.4 89.6,77.7 96.5,93.9 103.4,92.4 110.3,104.9 117.2,92.4 124.1,104.9 131,112.9 137.9,112.2 144.8,112.9 151.7,113.7 158.6,113.7 165.5,113.7"/>
<polyline class="d" stroke="#ff0000" marker-start="url(#mr)" marker-mid="url(#mr)" marker-end="url(#mr)" points="0,113.7 6.9,110 13.8,96.8 20.7,85.8 27.6,87.3 34.5,78.5 41.4,82.9 48.3,99 55.2,107.1 62.1,100.5 69,97.5 75.9,98.3 82.8,92.4 89.6,104.1 96.5,106.3 103.4,110.7 110.3,108.5 117.2,112.9 124.1,110 131,108.5 137.9,112.2 144.8,112.9 151.7,113.7 158.6,113.7 165.5,112.9"/>
</g>
<use href="#t24" stroke="#ff0000"/>
<use href="#l24" fill="#ff0000"/>
<text class="s" x="82.8" y="142.9" fill="#ff0000">Causeway Bay</text>
</g>
<g transform="translate(795.6 463.9)" clip-path="url(#ct)">
<use href="#g24"/>
<g clip-path="url(#cb)">
<polyline class="d" stroke="#00ffff" marker-start="url(#mc)" marker-mid="url(#mc)" marker-end="url(#mc)" points="0,68.9 6.9,68.2 13.8,66.7 20.7,66 27.6,68.2 34.5,68.9 41.4,73.3 48.3,77 55.2,81.4 62.1,82.1 69,82.9 75.9,82.9 82.8,82.1 89.6,81.4 96.5,77.7 103.4,74.8 110.3,76.3 117.2,79.2 124.1,80.7 131,82.9 137.9,83.6 144.8,83.6 151.7,85.1 158.6,88.7 165.5,88.7"/>
<polyline class="d" stroke="#00ff00" marker-start="url(#mg)" marker-mid="url(#mg)" marker-end="url(#mg)" points="0,90.2 6.9,91.7 13.8,89.5 20.7,88 27.6,87.3 34.5,88 41.4,90.9 48.3,95.3 55.2,101.9 62.1,99 69,87.3 75.9,73.3 82.8,68.2 89.6,58.7 96.5,49.9 103.4,44 110.3,47.7 117.2,49.9 124.1,55.7 131,52.8 137.9,68.9 144.8,81.4 151.7,84.3 158.6,92.4 165.5,90.2"/>
<polyline class="d" stroke="#0000ff" marker-start="url(#mb)" marker-mid="url(#mb)" marker-end="url(#mb)" points="0,90.2 6.9,68.9 13.8,58.7 20.7,54.3 27.6,52.1 34.5,54.3 41.4,60.1 48.3,66 55.2,76.3 62.1,75.5 69,67.5 75.9,53.5 82.8,47.7 89.6,38.9 96.5,42.5 103.4,43.3 110.3,52.1 117.2,49.9 124.1,58.7 131,66.7 137.9,71.1 144.8,82.1 151.7,80.7 158.6,83.6 165.5,79.9"/>
<polyline class="d" stroke="#ff0000" marker-start="url(#mr)" marker-mid="url(#mr)" marker-end="url(#mr)" points="0,79.2 6.9,64.5 13.8,57.9 20.7,51.3 27.6,48.4 34.5,52.8 41.4,57.2 48.3,75.5 55.2,85.8 62.1,82.9 69,71.1 75.9,57.9 82.8,50.6 89.6,42.5 96.5,40.3 103.4,38.9 110.3,38.1 117.2,48.4 124.1,64.5 131,78.5 137.9,83.6 144.8,82.1 151.7,92.4 158.6,98.3 165.5,100.5"/>
</g>
<use href="#t24" stroke="#000"/>
<use href="#l24" fill="#000"/>
<text class="s" x="82.8" y="142.9" fill="#000">Eastern</text>
</g>
<g transform="translate(23.5 611.9)" clip-path="url(#ct)">
<use href="#g24"/>
<g clip-path="url(#cb)">
<polyline class="d" stroke="#00ffff" marker-start="url(#mc)" marker-mid="url(#mc)" marker-end="url(#mc)" points="0,78.5 6.9,81.4 13.8,79.9 20.7,77 27.6,73.3 34.5,71.1 41.4,70.4 48.3,70.4 55.2,72.6 62.1,82.9 69,99 75.9,99.7 82.8,99.7 89.6,101.2 96.5,101.2 103.4,100.5 110.3,100.5 117.2,101.2 124.1,103.4 131,102.7 137.9,101.2 144.8,99.7 151.7,96.1 158.6,94.6 165.5,92.4"/>
<polyline class="d" stroke="#00ff00" marker-start="url(#mg)" marker-mid="url(#mg)" marker-end="url(#mg)" points="0,89.5 13.8,79.9 20.7,76.3 27.6,73.3 34.5,70.4 41.4,65.3 48.3,68.9 55.2,67.5 62.1,89.5 69,101.2 75.9,100.5 82.8,93.9 89.6,96.8 96.5,93.1 103.4,85.1 110.3,71.1 117.2,62.3 124.1,74.8 131,90.9 137.9,85.1 144.8,95.3 151.7,99.7 158.6,99.7 165.5,92.4"/>
<polyline class="d" stroke="#0000ff" marker-start="url(#mb)" marker-mid="url(#mb)" marker-end="url(#mb)" points="0,92.4 6.9,86.5 13.8,84.3 20.7,82.1 27.6,77.7 34.5,75.5 41.4,82.9 48.3,74.1 55.2,71.9 62.1,87.3 69,95.3 75.9,75.5 82.8,73.3 89.6,79.2 96.5,66 103.4,63.1 110.3,57.9 117.2,58.7 124.1,78.5 131,91.7 137.9,86.5 144.8,89.5 151.7,88 158.6,82.9 165.5,81.4"/>
<polyline class="d" stroke="#ff0000" marker-start="url(#mr)" marker-mid="url(#mr)" marker-end="url(#mr)" points="0,80.7 13.8,74.1 20.7,69.7 27.6,70.4 34.5,70.4 41.4,67.5 48.3,68.9 55.2,71.9 62.1,88 69,102.7 75.9,92.4 82.8,78.5 89.6,74.1 96.5,66.7 103.4,80.7 110.3,71.9 117.2,66 124.1,88 131,104.1 137.9,92.4 144.8,93.1 151.7,88.7 158.6,70.4 165.5,83.6"/>
</g>
<use href="#t24" stroke="#000"/>
<use href="#l24" fill="#000"/>
<text class="s" x="82.8" y="142.9" fill="#000">Tung Chung</text>
</g>
<g transform="translate(216.5 611.9)" clip-path="url(#ct)">
<use href="#g24"/>
<use href="#t24" stroke="#000"/>
<use href="#l24" fill="#000"/>
<text class="s" x="82.8" y="142.9" fill="#000">Airport. Pump House 5</text>
</g>
<g transform="translate(409.6 611.9)" clip-path="url(#ct)">
<use href="#g24"/>
<g clip-path="url(#cb)">
<polyline class="d" stroke="#00ffff" marker-start="url(#mc)" marker-mid="url(#mc)" marker-end="url(#mc)" points="0,68.2 6.9,68.2 13.8,66.7 20.7,65.3 27.6,67.5 34.5,69.7 41.4,74.1 48.3,79.2 55.2,82.1 62.1,82.9 69,82.9 75.9,85.1 82.8,85.8 89.6,82.9 96.5,81.4 103.4,77 110.3,79.2 117.2,80.7 124.1,82.1 131,83.6 137.9,83.6 144.8,84.3 151.7,84.3 158.6,84.3 165.5,84.3"/>
<polyline class="d" stroke="#00ff00" marker-start="url(#mg)" marker-mid="url(#mg)" marker-end="url(#mg)" points="0,84.3 6.9,85.8 13.8,83.6 20.7,80.7 27.6,80.7 34.5,82.9 41.4,84.3 48.3,92.4 55.2,94.6 62.1,98.3 69,88 75.9,71.1 82.8,74.8 89.6,70.4 96.5,58.7 103.4,52.8 110.3,44 117.2,30.8 124.1,35.9 131,57.9 137.9,63.8 144.8,68.9 151.7,79.2 158.6,90.9 165.5,94.6"/>
<polyline class="d" stroke="#0000ff" marker-start="url(#mb)" marker-mid="url(#mb)" marker-end="url(#mb)" points="0,94.6 6.9,79.2 13.8,52.1 20.7,58.7 27.6,48.4 34.5,44.7 41.4,52.1 48.3,65.3 55.2,61.6 62.1,54.3 69,57.9 75.9,44 82.8,38.1 89.6,43.3 96.5,31.5 103.4,31.5 110.3,28.6 117.2,37.4 124.1,52.8 131,65.3 137.9,79.2 144.8,85.8 151.7,96.1 158.6,95.3 165.5,79.2"/>
<polyline class="d" stroke="#ff0000" marker-start="url(#mr)" marker-mid="url(#mr)" marker-end="url(#mr)" points="0,79.2 6.9,66 13.8,55.7 20.7,44.7 27.6,38.9 34.5,43.3 41.4,47.7 48.3,52.8 55.2,59.4 62.1,55 69,53.5 75.9,47.7 82.8,66.7 89.6,38.9 96.5,18.3 103.4,12.5 110.3,11.7 117.2,13.9 124.1,39.6 131,52.8 137.9,58.7 144.8,78.5 151.7,96.1 158.6,90.2 165.5,89.5"/>
</g>
<use href="#t24" stroke="#000"/>
<use href="#l24" fill="#000"/>
<text class="s" x="82.8" y="142.9" fill="#000">Southern</text>
</g>
<g transform="translate(795.6 611.9)" clip-path="url(#ct)">
<path d="M41.4 0V117.3M82.8 0V117.3M124.1 0V117.3M0 88H165.5M0 58.7H165.5M0 29.3H165.5" fill="none" stroke="#000" stroke-width="1.1" stroke-dasharray="1.1 2"/>
<g clip-path="url(#cb)">
<polyline class="a" stroke="#ff0000" points="0,77 1.7,77.7 3.4,72.6 5.2,74.1 6.9,74.8 8.6,71.1 10.3,77.7 12.1,85.1 13.8,90.9 15.5,99.7 17.2,104.1 19,103.4 20.7,99 22.4,100.5 24.1,100.5 25.9,94.6 27.6,96.1 29.3,96.1 31,99.7 32.8,99 34.5,96.1 36.2,97.5 37.9,99.7 39.7,97.5 41.4,100.5 43.1,104.1 44.8,101.9 46.5,100.5 48.3,99 50,99 51.7,99.7 53.4,101.9 55.2,105.6 56.9,103.4 58.6,104.1 60.3,99.7 62.1,92.4 63.8,99 65.5,96.8 67.2,101.2 69,100.5 70.7,93.1 72.4,90.9 74.1,90.9 75.9,91.7 77.6,94.6 79.3,105.6 81,110 82.8,110 84.5,102.7 86.2,74.1 87.9,60.9 89.6,64.5 91.4,63.8 93.1,62.3 94.8,85.8 96.5,93.9 98.3,91.7 100,79.2 101.7,77 103.4,73.3 105.2,69.7 106.9,70.4 108.6,74.1 110.3,86.5 112.1,90.2 113.8,90.2 115.5,85.1 117.2,93.1 119,107.8 120.7,107.8 122.4,110 124.1,110.7 125.8,107.8 127.6,85.1 129.3,79.2 131,82.9 132.7,71.9 134.5,79.9 136.2,94.6 137.9,106.3 139.6,104.9 141.4,92.4 143.1,91.7 144.8,82.9 146.5,74.1 148.3,81.4 150,93.9 151.7,95.3 153.4,90.9 155.2,98.3 156.9,105.6 158.6,99.7 160.3,98.3 162.1,104.9 163.8,98.3 165.5,110"/>
<polyline class="a" stroke="#ff0000" points="0,90.9 1.7,85.1 3.4,78.5 5.2,77 6.9,75.5 8.6,77.7 10.3,85.1 12.1,90.9 13.8,97.5 15.5,103.4 17.2,103.4 19,104.1 20.7,104.1 22.4,93.1 24.1,90.9 25.9,91.7 27.6,94.6 29.3,95.3 31,95.3 32.8,96.8 34.5,94.6 36.2,99 37.9,94.6 39.7,94.6 41.4,94.6 43.1,93.9 44.8,92.4 46.5,88.7 48.3,85.8 50,88.7 51.7,95.3 53.4,104.9 55.2,105.6 56.9,106.3 58.6,103.4 60.3,95.3 62.1,90.9 63.8,99 65.5,100.5 67.2,100.5 69,93.9 70.7,96.1 72.4,95.3 74.1,96.1 75.9,96.1 77.6,96.1 79.3,103.4 81,104.1 82.8,104.9 84.5,100.5 86.2,100.5 87.9,93.9 89.6,93.9 91.4,95.3 93.1,71.9 94.8,79.9 96.5,96.1 98.3,82.1 100,74.1 101.7,68.2 103.4,66 105.2,72.6 106.9,73.3 108.6,70.4 110.3,83.6 112.1,79.2 113.8,74.8 115.5,94.6 117.2,102.7 119,104.9 120.7,105.6 122.4,105.6 124.1,105.6 125.8,103.4 127.6,97.5 129.3,93.1 131,83.6 132.7,83.6 134.5,77.7 136.2,88 137.9,103.4 139.6,103.4 141.4,98.3 143.1,95.3 144.8,92.4 146.5,83.6 148.3,85.1 150,92.4 151.7,93.1 153.4,92.4 155.2,100.5 156.9,107.8 158.6,107.1 160.3,107.1 162.1,107.8 163.8,107.1 165.5,107.1"/>
<polyline class="a" stroke="#ff0000" points="0,83.6 1.7,84.3 3.4,78.5 5.2,78.5 6.9,79.9 8.6,83.6 10.3,90.9 12.1,97.5 13.8,102.7 15.5,104.9 17.2,104.9 19,107.8 20.7,107.8 22.4,109.3 24.1,104.1 25.9,108.5 27.6,107.8 29.3,107.1 31,109.3 32.8,107.8 34.5,107.8 36.2,105.6 37.9,104.9 39.7,104.9 41.4,104.9 43.1,102.7 44.8,99 46.5,99 48.3,97.5 50,94.6 51.7,96.8 53.4,107.8 55.2,112.2 56.9,112.2 58.6,110.7 60.3,110 62.1,107.8 63.8,108.5 65.5,112.2 67.2,107.1 69,109.3 70.7,112.2 72.4,110 74.1,107.8 75.9,107.8 77.6,110.7 79.3,112.9 81,112.9 82.8,105.6 84.5,107.1 86.2,98.3 87.9,96.8 89.6,90.2 91.4,92.4 93.1,78.5 94.8,85.8 96.5,96.1 98.3,85.1 100,93.1 101.7,91.7 103.4,103.4 105.2,77.7 106.9,93.9 108.6,92.4 110.3,104.9 112.1,92.4 113.8,104.9 115.5,112.9 117.2,112.2 119,112.9 120.7,113.7 122.4,113.7 124.1,113.7 125.8,110 127.6,96.8 129.3,85.8 131,87.3 132.7,78.5 134.5,82.9 136.2,99 137.9,107.1 139.6,100.5 141.4,97.5 143.1,98.3 144.8,92.4 146.5,104.1 148.3,106.3 150,110.7 151.7,108.5 153.4,112.9 155.2,110 156.9,108.5 158.6,112.2 160.3,112.9 162.1,113.7 163.8,113.7 165.5,112.9"/>
<polyline class="a" stroke="#0000ff" points="0,68.9 1.7,68.9 3.4,71.9 5.2,72.6 6.9,73.3 8.6,74.1 10.3,77.7 12.1,82.9 13.8,86.5 15.5,87.3 17.2,92.4 19,91.7 20.7,90.9 22.4,90.2 24.1,90.2 25.9,90.9 27.6,93.9 29.3,93.9 31,98.3 32.8,104.9 34.5,108.5 36.2,109.3 37.9,107.1 39.7,106.3 41.4,110 43.1,107.1 44.8,107.1 46.5,108.5 48.3,107.8 50,105.6 51.7,107.1 53.4,107.8 55.2,107.8 56.9,108.5 58.6,101.2 60.3,91.7 62.1,79.2 63.8,63.8 65.5,57.2 67.2,44 69,19.1 70.7,30.8 72.4,36.7 74.1,39.6 75.9,77 77.6,82.9 79.3,104.1 81,101.9 82.8,108.5 84.5,117.3 86.2,111.5 87.9,105.6 89.6,114.4 91.4,110 93.1,108.5 94.8,113.7 96.5,115.9 98.3,110 100,94.6 101.7,72.6 103.4,54.3 105.2,45.5 106.9,38.9 108.6,22 110.3,22.7 112.1,31.5 113.8,35.9 115.5,65.3 117.2,72.6 119,91.7 120.7,115.9 122.4,117.3 124.1,117.3 125.8,117.3 127.6,117.3 129.3,116.6 131,115.1 132.7,110 134.5,112.9 136.2,115.9 137.9,117.3 139.6,115.9 141.4,104.1 143.1,68.9 144.8,66 146.5,55 148.3,49.1 150,49.9 151.7,46.2 153.4,44.7 155.2,40.3 156.9,90.2 158.6,94.6 160.3,99 162.1,116.6 163.8,110 165.5,107.1"/>
<polyline class="a" stroke="#0000ff" points="0,63.1 1.7,62.3 3.4,62.3 5.2,63.1 6.9,63.8 8.6,66 10.3,70.4 12.1,73.3 13.8,79.2 15.5,81.4 17.2,82.9 19,82.9 20.7,82.9 22.4,83.6 24.1,84.3 25.9,83.6 27.6,85.8 29.3,90.2 31,90.2 32.8,95.3 34.5,98.3 36.2,99 37.9,97.5 39.7,97.5 41.4,101.2 43.1,100.5 44.8,103.4 46.5,103.4 48.3,98.3 50,99 51.7,101.2 53.4,104.1 55.2,105.6 56.9,101.2 58.6,93.9 60.3,86.5 62.1,79.2 63.8,60.1 65.5,46.9 67.2,24.9 69,10.3 70.7,33 72.4,32.3 74.1,52.8 75.9,96.1 77.6,110 79.3,110.7 81,109.3 82.8,107.1 84.5,111.5 86.2,110.7 87.9,110.7 89.6,110.7 91.4,110 93.1,110.7 94.8,111.5 96.5,110.7 98.3,105.6 100,77.7 101.7,48.4 103.4,41.8 105.2,33.7 106.9,31.5 108.6,39.6 110.3,29.3 112.1,5.9 113.8,19.8 115.5,79.9 117.2,107.1 119,110.7 120.7,110.7 122.4,110.7 124.1,107.1 125.8,107.8 127.6,104.1 129.3,98.3 131,101.9 132.7,105.6 134.5,110 136.2,110.7 137.9,110 139.6,108.5 141.4,85.1 143.1,79.2 144.8,59.4 146.5,50.6 148.3,40.3 150,47.7 151.7,71.1 153.4,44 155.2,63.8 156.9,95.3 158.6,108.5 160.3,110.7 162.1,110.7 163.8,110 165.5,105.6"/>
<polyline class="a" stroke="#0000ff" points="0,70.4 1.7,71.1 3.4,70.4 5.2,71.9 6.9,75.5 8.6,78.5 10.3,78.5 12.1,77.7 13.8,80.7 15.5,83.6 17.2,85.8 19,86.5 20.7,88 22.4,88.7 24.1,87.3 25.9,89.5 27.6,89.5 29.3,93.1 31,99.7 32.8,104.9 34.5,109.3 36.2,111.5 37.9,110.7 39.7,111.5 41.4,110 43.1,109.3 44.8,109.3 46.5,109.3 48.3,108.5 50,109.3 51.7,109.3 53.4,107.1 55.2,112.9 56.9,105.6 58.6,100.5 60.3,92.4 62.1,85.1 63.8,70.4 65.5,58.7 67.2,48.4 69,3.7 70.7,18.3 72.4,38.9 74.1,73.3 75.9,78.5 77.6,86.5 79.3,105.6 81,105.6 82.8,85.1 84.5,98.3 86.2,115.1 87.9,114.4 89.6,108.5 91.4,106.3 93.1,106.3 94.8,109.3 96.5,112.9 98.3,108.5 100,77.7 101.7,55 103.4,41.1 105.2,34.5 106.9,36.7 108.6,39.6 110.3,37.4 112.1,40.3 113.8,59.4 115.5,79.2 117.2,88.7 119,104.1 120.7,115.1 122.4,115.9 124.1,102.7 125.8,104.9 127.6,108.5 129.3,95.3 131,107.8 132.7,114.4 134.5,114.4 136.2,114.4 137.9,114.4 139.6,110 141.4,90.9 143.1,58.7 144.8,41.1 146.5,33 148.3,33 150,30.8 151.7,53.5 153.4,59.4 155.2,69.7 156.9,79.9 158.6,74.1 160.3,101.2 162.1,114.4 163.8,115.9 165.5,110"/>
<polyline class="a" stroke="#0000ff" points="0,63.1 1.7,62.3 3.4,62.3 5.2,64.5 6.9,66 8.6,66 10.3,68.2 12.1,69.7 13.8,71.1 15.5,75.5 17.2,77.7 19,79.9 20.7,79.9 22.4,78.5 24.1,76.3 25.9,77.7 27.6,78.5 29.3,79.2 31,84.3 32.8,88.7 34.5,90.2 36.2,92.4 37.9,93.1 39.7,95.3 41.4,93.9 43.1,91.7 44.8,91.7 46.5,91.7 48.3,93.1 50,92.4 51.7,90.2 53.4,88 55.2,87.3 56.9,82.9 58.6,78.5 60.3,70.4 62.1,55.7 63.8,40.3 65.5,27.1 67.2,11.7 69,17.6 70.7,19.1 72.4,31.5 74.1,41.1 75.9,46.2 77.6,50.6 79.3,62.3 81,67.5 82.8,64.5 84.5,65.3 86.2,66 87.9,68.2 89.6,83.6 91.4,77.7 93.1,63.1 94.8,75.5 96.5,85.1 98.3,77.7 100,55 101.7,40.3 103.4,30.8 105.2,20.5 106.9,15.4 108.6,16.9 110.3,23.5 112.1,27.1 113.8,31.5 115.5,40.3 117.2,50.6 119,55 120.7,63.1 122.4,66.7 124.1,68.2 125.8,71.1 127.6,72.6 129.3,72.6 131,75.5 132.7,76.3 134.5,86.5 136.2,97.5 137.9,96.1 139.6,88 141.4,73.3 143.1,44 144.8,31.5 146.5,19.8 148.3,14.7 150,8.1 151.7,8.1 153.4,10.3 155.2,31.5 156.9,48.4 158.6,37.4 160.3,38.9 162.1,51.3 163.8,62.3 165.5,73.3"/>
<polyline class="a" stroke="#0000ff" points="0,60.9 1.7,60.9 3.4,63.1 5.2,63.1 6.9,64.5 8.6,65.3 10.3,67.5 12.1,69.7 13.8,73.3 15.5,75.5 17.2,79.2 19,83.6 20.7,85.1 22.4,83.6 24.1,84.3 25.9,83.6 27.6,84.3 29.3,88 31,87.3 32.8,92.4 34.5,94.6 36.2,94.6 37.9,95.3 39.7,96.1 41.4,98.3 43.1,98.3 44.8,99.7 46.5,99.7 48.3,99 50,96.8 51.7,95.3 53.4,93.9 55.2,99.7 56.9,101.2 58.6,99 60.3,94.6 62.1,79.9 63.8,66.7 65.5,61.6 67.2,41.8 69,19.8 70.7,5.1 72.4,15.4 74.1,58.7 75.9,90.9 77.6,85.1 79.3,91.7 81,106.3 82.8,107.8 84.5,107.1 86.2,107.8 87.9,105.6 89.6,104.1 91.4,99.7 93.1,99 94.8,102.7 96.5,105.6 98.3,100.5 100,83.6 101.7,61.6 103.4,46.2 105.2,34.5 106.9,24.2 108.6,8.8 110.3,0 112.1,11.7 113.8,17.6 115.5,61.6 117.2,75.5 119,91.7 120.7,102.7 122.4,107.8 124.1,107.8 125.8,107.8 127.6,107.8 129.3,99.7 131,100.5 132.7,101.2 134.5,100.5 136.2,105.6 137.9,108.5 139.6,105.6 141.4,104.1 143.1,85.1 144.8,58.7 146.5,59.4 148.3,58.7 150,60.1 151.7,18.3 153.4,13.2 155.2,25.7 156.9,91.7 158.6,104.1 160.3,105.6 162.1,106.3 163.8,108.5 165.5,108.5"/>
<polyline class="a" stroke="#0000ff" points="0,79.9 1.7,77 3.4,74.8 5.2,72.6 6.9,76.3 8.6,77.7 10.3,81.4 12.1,84.3 13.8,84.3 15.5,89.5 17.2,89.5 19,93.1 20.7,96.1 22.4,99 24.1,94.6 25.9,95.3 27.6,96.1 29.3,97.5 31,103.4 32.8,102.7 34.5,100.5 36.2,102.7 37.9,99.7 39.7,97.5 41.4,94.6 43.1,96.8 44.8,97.5 46.5,97.5 48.3,96.8 50,99 51.7,100.5 53.4,105.6 55.2,107.1 56.9,106.3 58.6,104.9 60.3,103.4 62.1,100.5 63.8,93.9 65.5,90.2 67.2,78.5 69,73.3 70.7,67.5 72.4,63.8 74.1,76.3 75.9,86.5 77.6,87.3 79.3,94.6 81,95.3 82.8,90.2 84.5,85.8 86.2,77 87.9,73.3 89.6,74.1 91.4,77 93.1,82.1 94.8,90.2 96.5,95.3 98.3,90.9 100,69.7 101.7,70.4 103.4,71.1 105.2,72.6 106.9,62.3 108.6,39.6 110.3,43.3 112.1,48.4 113.8,55 115.5,80.7 117.2,89.5 119,87.3 120.7,80.7 122.4,75.5 124.1,70.4 125.8,71.1 127.6,71.9 129.3,70.4 131,66 132.7,66.7 134.5,68.2 136.2,79.2 137.9,92.4 139.6,94.6 141.4,85.1 143.1,74.8 144.8,83.6 146.5,93.9 148.3,81.4 150,86.5 151.7,69.7 153.4,57.2 155.2,68.9 156.9,93.1 158.6,89.5 160.3,83.6 162.1,68.9 163.8,67.5 165.5,77.7"/>
<polyline class="a" stroke="#0000ff" points="0,72.6 1.7,73.3 3.4,70.4 5.2,69.7 6.9,71.1 8.6,74.1 10.3,77 12.1,82.1 13.8,89.5 15.5,90.9 17.2,90.9 19,90.2 20.7,93.1 22.4,93.1 24.1,93.1 25.9,89.5 27.6,88.7 29.3,88.7 31,93.1 32.8,96.8 34.5,99.7 36.2,96.8 37.9,96.1 39.7,98.3 41.4,99.7 43.1,98.3 44.8,96.1 46.5,95.3 48.3,96.1 50,96.8 51.7,96.1 53.4,96.8 55.2,100.5 56.9,96.8 58.6,89.5 60.3,82.1 62.1,84.3 63.8,83.6 65.5,79.2 67.2,82.1 69,68.9 70.7,63.8 72.4,63.8 74.1,69.7 75.9,66.7 77.6,78.5 79.3,101.2 81,111.5 82.8,112.9 84.5,93.9 86.2,74.1 87.9,67.5 89.6,49.9 91.4,57.2 93.1,57.2 94.8,72.6 96.5,81.4 98.3,79.2 100,68.9 101.7,63.8 103.4,58.7 105.2,55 106.9,56.5 108.6,58.7 110.3,61.6 112.1,72.6 113.8,68.9 115.5,77.7 117.2,90.2 119,100.5 120.7,103.4 122.4,104.9 124.1,111.5 125.8,107.8 127.6,84.3 129.3,79.2 131,77.7 132.7,77 134.5,84.3 136.2,100.5 137.9,104.9 139.6,96.8 141.4,82.9 143.1,71.1 144.8,63.1 146.5,63.1 148.3,64.5 150,59.4 151.7,53.5 153.4,52.1 155.2,76.3 156.9,90.9 158.6,88 160.3,102.7 162.1,104.1 163.8,99 165.5,114.4"/>
<polyline class="a" stroke="#0000ff" points="0,64.5 1.7,65.3 3.4,64.5 5.2,64.5 6.9,66 8.6,68.2 10.3,70.4 12.1,74.1 13.8,79.9 15.5,83.6 17.2,82.9 19,85.8 20.7,87.3 22.4,84.3 24.1,79.2 25.9,74.8 27.6,74.1 29.3,78.5 31,88 32.8,93.9 34.5,99 36.2,88.7 37.9,89.5 39.7,98.3 41.4,92.4 43.1,90.2 44.8,96.1 46.5,93.1 48.3,90.2 50,90.9 51.7,95.3 53.4,103.4 55.2,108.5 56.9,101.2 58.6,90.9 60.3,79.9 62.1,63.8 63.8,54.3 65.5,49.1 67.2,41.1 69,36.7 70.7,68.9 72.4,66.7 74.1,76.3 75.9,93.9 77.6,99.7 79.3,108.5 81,107.8 82.8,110 84.5,110 86.2,109.3 87.9,108.5 89.6,107.1 91.4,101.9 93.1,104.9 94.8,110 96.5,110 98.3,106.3 100,76.3 101.7,41.1 103.4,31.5 105.2,24.9 106.9,30.1 108.6,35.2 110.3,38.1 112.1,49.9 113.8,66 115.5,95.3 117.2,107.8 119,109.3 120.7,109.3 122.4,109.3 124.1,111.5 125.8,110.7 127.6,109.3 129.3,108.5 131,109.3 132.7,110 134.5,110.7 136.2,111.5 137.9,111.5 139.6,110 141.4,96.8 143.1,64.5 144.8,46.2 146.5,36.7 148.3,33.7 150,46.2 151.7,60.1 153.4,56.5 155.2,79.2 156.9,106.3 158.6,112.2 160.3,112.2 162.1,111.5 163.8,110 165.5,110"/>
<polyline class="a" stroke="#0000ff" points="0,74.8 1.7,71.1 3.4,68.9 5.2,67.5 6.9,67.5 8.6,71.1 10.3,77.7 12.1,82.9 13.8,85.1 15.5,88.7 17.2,91.7 19,94.6 20.7,96.1 22.4,97.5 24.1,96.1 25.9,96.1 27.6,98.3 29.3,100.5 31,99.7 32.8,97.5 34.5,99 36.2,93.9 37.9,90.9 39.7,91.7 41.4,91.7 43.1,89.5 44.8,90.2 46.5,90.2 48.3,88.7 50,90.9 51.7,91.7 53.4,102.7 55.2,106.3 56.9,110 58.6,106.3 60.3,94.6 62.1,75.5 63.8,80.7 65.5,99 67.2,95.3 69,90.9 70.7,80.7 72.4,79.2 74.1,89.5 75.9,96.1 77.6,104.9 79.3,104.9 81,106.3 82.8,107.1 84.5,96.8 86.2,68.2 87.9,63.1 89.6,66 91.4,70.4 93.1,71.9 94.8,74.8 96.5,77.7 98.3,84.3 100,93.1 101.7,72.6 103.4,55.7 105.2,61.6 106.9,71.1 108.6,58.7 110.3,41.1 112.1,74.8 113.8,85.8 115.5,96.1 117.2,99.7 119,101.9 120.7,99.7 122.4,101.2 124.1,104.1 125.8,97.5 127.6,82.1 129.3,68.2 131,65.3 132.7,66 134.5,75.5 136.2,95.3 137.9,111.5 139.6,110 141.4,93.9 143.1,79.2 144.8,73.3 146.5,85.1 148.3,85.8 150,95.3 151.7,77.7 153.4,81.4 155.2,101.2 156.9,114.4 158.6,114.4 160.3,113.7 162.1,113.7 163.8,111.5 165.5,112.2"/>
<polyline class="a" stroke="#0000ff" points="0,76.3 1.7,76.3 3.4,74.8 5.2,72.6 6.9,74.8 8.6,74.8 10.3,76.3 12.1,82.1 13.8,89.5 15.5,91.7 17.2,91.7 19,91.7 20.7,91.7 22.4,85.8 24.1,84.3 25.9,82.9 27.6,84.3 29.3,85.1 31,87.3 32.8,88 34.5,88.7 36.2,86.5 37.9,88 39.7,90.9 41.4,91.7 43.1,90.9 44.8,90.2 46.5,88.7 48.3,88 50,89.5 51.7,90.9 53.4,101.9 55.2,110 56.9,104.9 58.6,91.7 60.3,73.3 62.1,71.9 63.8,75.5 65.5,63.8 67.2,49.1 69,48.4 70.7,79.2 72.4,86.5 74.1,101.9 75.9,101.9 77.6,94.6 79.3,107.8 81,112.9 82.8,103.4 84.5,110 86.2,85.1 87.9,69.7 89.6,73.3 91.4,82.9 93.1,72.6 94.8,74.1 96.5,68.9 98.3,69.7 100,72.6 101.7,60.1 103.4,53.5 105.2,47.7 106.9,54.3 108.6,60.9 110.3,68.2 112.1,64.5 113.8,70.4 115.5,104.1 117.2,107.8 119,109.3 120.7,112.2 122.4,110 124.1,109.3 125.8,104.1 127.6,90.9 129.3,75.5 131,71.1 132.7,74.1 134.5,91.7 136.2,111.5 137.9,108.5 139.6,77.7 141.4,79.2 143.1,73.3 144.8,60.9 146.5,53.5 148.3,50.6 150,60.9 151.7,53.5 153.4,63.8 155.2,83.6 156.9,105.6 158.6,101.2 160.3,93.9 162.1,104.1 163.8,113.7 165.5,113.7"/>
<polyline class="a" stroke="#0000ff" points="0,60.9 1.7,61.6 3.4,61.6 5.2,62.3 6.9,63.1 8.6,63.8 10.3,66 12.1,68.9 13.8,71.9 15.5,73.3 17.2,75.5 19,76.3 20.7,77.7 22.4,75.5 24.1,73.3 25.9,72.6 27.6,74.1 29.3,74.8 31,77 32.8,79.2 34.5,82.1 36.2,84.3 37.9,85.1 39.7,86.5 41.4,87.3 43.1,86.5 44.8,86.5 46.5,85.8 48.3,85.1 50,85.8 51.7,86.5 53.4,89.5 55.2,96.8 56.9,85.1 58.6,76.3 60.3,67.5 62.1,55 63.8,40.3 65.5,27.9 67.2,16.1 69,16.9 70.7,24.9 72.4,60.9 74.1,72.6 75.9,88 77.6,94.6 79.3,99.7 81,104.9 82.8,99.7 84.5,103.4 86.2,99.7 87.9,91.7 89.6,74.1 91.4,80.7 93.1,96.8 94.8,95.3 96.5,92.4 98.3,67.5 100,53.5 101.7,39.6 103.4,31.5 105.2,27.9 106.9,27.9 108.6,24.2 110.3,28.6 112.1,30.1 113.8,47.7 115.5,76.3 117.2,78.5 119,84.3 120.7,86.5 122.4,97.5 124.1,94.6 125.8,91.7 127.6,90.2 129.3,79.2 131,80.7 132.7,79.9 134.5,93.1 136.2,103.4 137.9,104.9 139.6,97.5 141.4,53.5 143.1,41.8 144.8,27.9 146.5,22 148.3,17.6 150,15.4 151.7,19.1 153.4,30.1 155.2,49.1 156.9,88 158.6,98.3 160.3,100.5 162.1,99.7 163.8,104.9 165.5,104.9"/>
<polyline class="a" stroke="#0000ff" points="0,71.1 1.7,70.4 3.4,70.4 5.2,70.4 6.9,71.1 8.6,72.6 10.3,77 12.1,82.9 13.8,89.5 15.5,93.1 17.2,93.9 19,93.9 20.7,93.9 22.4,93.9 24.1,85.8 25.9,82.9 27.6,87.3 29.3,87.3 31,89.5 32.8,93.9 34.5,93.9 36.2,87.3 37.9,86.5 39.7,90.9 41.4,92.4 43.1,93.1 44.8,89.5 46.5,87.3 48.3,83.6 50,85.1 51.7,93.1 53.4,99 55.2,107.1 56.9,103.4 58.6,99.7 60.3,94.6 62.1,81.4 63.8,82.1 65.5,82.1 67.2,77.7 69,62.3 70.7,56.5 72.4,45.5 74.1,49.9 75.9,42.5 77.6,46.2 79.3,58.7 81,80.7 82.8,102.7 84.5,85.1 86.2,59.4 87.9,61.6 89.6,49.9 91.4,52.1 93.1,58.7 94.8,58.7 96.5,67.5 98.3,63.1 100,62.3 101.7,57.9 103.4,44.7 105.2,44 106.9,52.1 108.6,58.7 110.3,50.6 112.1,46.2 113.8,72.6 115.5,81.4 117.2,93.9 119,99.7 120.7,101.9 122.4,90.2 124.1,84.3 125.8,72.6 127.6,58.7 129.3,52.8 131,41.8 132.7,41.1 134.5,45.5 136.2,53.5 137.9,67.5 139.6,71.1 141.4,74.8 143.1,68.9 144.8,59.4 146.5,46.9 148.3,56.5 150,47.7 151.7,39.6 153.4,40.3 155.2,55 156.9,87.3 158.6,58.7 160.3,61.6 162.1,80.7 163.8,90.9 165.5,94.6"/>
<polyline class="a" stroke="#0000ff" points="0,68.9 1.7,68.2 3.4,66.7 5.2,66 6.9,68.2 8.6,68.9 10.3,73.3 12.1,77 13.8,81.4 15.5,82.1 17.2,82.9 19,82.9 20.7,82.1 22.4,81.4 24.1,77.7 25.9,74.8 27.6,76.3 29.3,79.2 31,80.7 32.8,82.9 34.5,83.6 36.2,83.6 37.9,85.1 39.7,88.7 41.4,88.7 43.1,91.7 44.8,89.5 46.5,88 48.3,87.3 50,88 51.7,90.9 53.4,95.3 55.2,101.9 56.9,99 58.6,87.3 60.3,73.3 62.1,68.2 63.8,58.7 65.5,49.9 67.2,44 69,47.7 70.7,49.9 72.4,55.7 74.1,52.8 75.9,68.9 77.6,81.4 79.3,84.3 81,92.4 82.8,90.2 84.5,68.9 86.2,58.7 87.9,54.3 89.6,52.1 91.4,54.3 93.1,60.1 94.8,66 96.5,76.3 98.3,75.5 100,67.5 101.7,53.5 103.4,47.7 105.2,38.9 106.9,42.5 108.6,43.3 110.3,52.1 112.1,49.9 113.8,58.7 115.5,66.7 117.2,71.1 119,82.1 120.7,80.7 122.4,83.6 124.1,79.9 125.8,64.5 127.6,57.9 129.3,51.3 131,48.4 132.7,52.8 134.5,57.2 136.2,75.5 137.9,85.8 139.6,82.9 141.4,71.1 143.1,57.9 144.8,50.6 146.5,42.5 148.3,40.3 150,38.9 151.7,38.1 153.4,48.4 155.2,64.5 156.9,78.5 158.6,83.6 160.3,82.1 162.1,92.4 163.8,98.3 165.5,100.5"/>
<polyline class="a" stroke="#0000ff" points="0,78.5 1.7,81.4 3.4,79.9 5.2,77 6.9,73.3 8.6,71.1 10.3,70.4 12.1,70.4 13.8,72.6 15.5,82.9 17.2,99 19,99.7 20.7,99.7 22.4,101.2 24.1,101.2 25.9,100.5 27.6,100.5 29.3,101.2 31,103.4 32.8,102.7 34.5,101.2 36.2,99.7 37.9,96.1 39.7,94.6 41.4,92.4 43.1,83.6 44.8,79.9 46.5,76.3 48.3,73.3 50,70.4 51.7,65.3 53.4,68.9 55.2,67.5 56.9,89.5 58.6,101.2 60.3,100.5 62.1,93.9 63.8,96.8 65.5,93.1 67.2,85.1 69,71.1 70.7,62.3 72.4,74.8 74.1,90.9 75.9,85.1 77.6,95.3 79.3,99.7 81,99.7 82.8,92.4 84.5,86.5 86.2,84.3 87.9,82.1 89.6,77.7 91.4,75.5 93.1,82.9 94.8,74.1 96.5,71.9 98.3,87.3 100,95.3 101.7,75.5 103.4,73.3 105.2,79.2 106.9,66 108.6,63.1 110.3,57.9 112.1,58.7 113.8,78.5 115.5,91.7 117.2,86.5 119,89.5 120.7,88 122.4,82.9 124.1,81.4 125.8,77 127.6,74.1 129.3,69.7 131,70.4 132.7,70.4 134.5,67.5 136.2,68.9 137.9,71.9 139.6,88 141.4,102.7 143.1,92.4 144.8,78.5 146.5,74.1 148.3,66.7 150,80.7 151.7,71.9 153.4,66 155.2,88 156.9,104.1 158.6,92.4 160.3,93.1 162.1,88.7 163.8,70.4 165.5,83.6"/>
<polyline class="a" stroke="#0000ff" points="0,68.2 1.7,68.2 3.4,66.7 5.2,65.3 6.9,67.5 8.6,69.7 10.3,74.1 12.1,79.2 13.8,82.1 15.5,82.9 17.2,82.9 19,85.1 20.7,85.8 22.4,82.9 24.1,81.4 25.9,77 27.6,79.2 29.3,80.7 31,82.1 32.8,83.6 34.5,83.6 36.2,84.3 37.9,84.3 39.7,84.3 41.4,84.3 43.1,85.8 44.8,83.6 46.5,80.7 48.3,80.7 50,82.9 51.7,84.3 53.4,92.4 55.2,94.6 56.9,98.3 58.6,88 60.3,71.1 62.1,74.8 63.8,70.4 65.5,58.7 67.2,52.8 69,44 70.7,30.8 72.4,35.9 74.1,57.9 75.9,63.8 77.6,68.9 79.3,79.2 81,90.9 82.8,94.6 84.5,79.2 86.2,52.1 87.9,58.7 89.6,48.4 91.4,44.7 93.1,52.1 94.8,65.3 96.5,61.6 98.3,54.3 100,57.9 101.7,44 103.4,38.1 105.2,43.3 106.9,31.5 108.6,31.5 110.3,28.6 112.1,37.4 113.8,52.8 115.5,65.3 117.2,79.2 119,85.8 120.7,96.1 122.4,95.3 124.1,79.2 125.8,66 127.6,55.7 129.3,44.7 131,38.9 132.7,43.3 134.5,47.7 136.2,52.8 137.9,59.4 139.6,55 141.4,53.5 143.1,47.7 144.8,66.7 146.5,38.9 148.3,18.3 150,12.5 151.7,11.7 153.4,13.9 155.2,39.6 156.9,52.8 158.6,58.7 160.3,78.5 162.1,96.1 163.8,90.2 165.5,89.5"/>
</g>
<g stroke="#000"><path d="M20.7 0v3.4M20.7 117.3v-3.4M41.4 0v3.4M41.4 117.3v-3.4M62.1 0v3.4M62.1 117.3v-3.4M82.8 0v3.4M82.8 117.3v-3.4M103.4 0v3.4M103.4 117.3v-3.4M124.1 0v3.4M124.1 117.3v-3.4M144.8 0v3.4M144.8 117.3v-3.4M0 102.7h3.6M165.5 102.7h-3.6M0 88h5M165.5 88h-5M0 73.3h3.6M165.5 73.3h-3.6M0 58.7h5M165.5 58.7h-5M0 44h3.6M165.5 44h-3.6M0 29.3h5M165.5 29.3h-5M0 14.7h3.6M165.5 14.7h-3.6" fill="none" stroke-width="1"/><rect x="0" y="0" width="165.5" height="117.3" fill="none" stroke-width="1.45"/></g>
<text class="x" x="0" y="129">−72</text>
<text class="x" x="41.4" y="129">−48</text>
<text class="x" x="82.8" y="129">−24</text>
<text class="x" x="124.1" y="129">0</text>
<text class="x" x="165.5" y="129">24</text>
<text class="y" x="-5" y="120.8">0</text>
<text class="y" x="-5" y="91.5">20</text>
<text class="y" x="-5" y="62.2">40</text>
<text class="y" x="-5" y="32.8">60</text>
<text class="s" x="82.8" y="142.9" fill="#000" textLength="15.5" lengthAdjust="spacingAndGlyphs" style="font-size:9.4px">ALL</text>
</g>
</svg></body></html>
